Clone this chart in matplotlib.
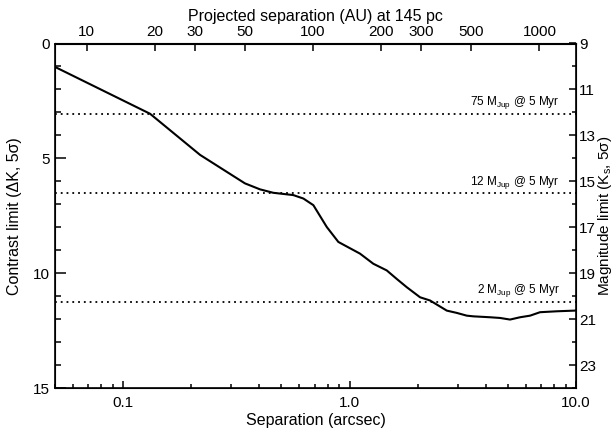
import matplotlib
matplotlib.use("Agg")
import matplotlib.pyplot as plt
from matplotlib.ticker import FixedLocator, FixedFormatter, NullFormatter
import numpy as np

plt.rcParams['font.family'] = ['Liberation Sans', 'DejaVu Sans']
plt.rcParams['mathtext.fontset'] = 'custom'
plt.rcParams['mathtext.rm'] = 'Liberation Sans'
plt.rcParams['mathtext.it'] = 'Liberation Sans:italic'

# Contrast curve (separation in arcsec, delta K)
sep = [0.05, 0.1315, 0.2186, 0.345, 0.402, 0.460, 0.564, 0.625, 0.692, 0.793, 0.892,
       0.923, 1.112, 1.273, 1.459, 1.615, 1.788, 2.048, 2.267, 2.687, 2.974, 3.293,
       3.521, 4.173, 4.618, 5.113, 5.661, 6.268, 6.937, 8.222, 9.90, 10.0]
dk = [1.02, 3.06, 4.85, 6.09, 6.35, 6.50, 6.60, 6.75, 7.04, 7.99, 8.64,
      8.72, 9.15, 9.59, 9.88, 10.25, 10.61, 11.05, 11.19, 11.63, 11.73, 11.85,
      11.88, 11.92, 11.95, 12.02, 11.92, 11.85, 11.70, 11.66, 11.63, 11.62]

mass_levels = [3.05, 6.53, 11.24]
mass_labels = [r"75 M$_{\rm Jup}$ @ 5 Myr", r"12 M$_{\rm Jup}$ @ 5 Myr", r"2 M$_{\rm Jup}$ @ 5 Myr"]

bottom_ticks = [0.1, 1.0, 10.0]
bottom_labels = ["0.1", "1.0", "10.0"]
top_ticks = [10, 20, 30, 50, 100, 200, 300, 500, 1000]
distance_pc = 145

fig = plt.figure(figsize=(6.14, 4.29), dpi=100)
ax = fig.add_axes([55/614, 1-388/429, 521/614, 344.5/429])

ax.plot(sep, dk, color='black', lw=1.5)
for lvl, lab in zip(mass_levels, mass_labels):
    ax.axhline(lvl, color='black', lw=1.3, ls=(0, (1, 2.2)))
    ax.text(0.969, lvl - 0.12, lab, transform=ax.get_yaxis_transform(),
            ha='right', va='bottom', fontsize=8.5)

ax.set_xscale('log')
ax.set_xlim(0.05, 10.0)
ax.set_ylim(15, 0)
ax.xaxis.set_major_locator(FixedLocator(bottom_ticks))
ax.xaxis.set_major_formatter(FixedFormatter(bottom_labels))
minors = [m * d for d in (0.01, 0.1, 1.0) for m in range(2, 10) if 0.05 <= m * d <= 10]
ax.xaxis.set_minor_locator(FixedLocator(minors))
ax.xaxis.set_minor_formatter(NullFormatter())
ax.set_yticks([0, 5, 10, 15])
ax.set_yticks(np.arange(0, 16, 1), minor=True)
ax.tick_params(axis='y', which='major', direction='in', length=7.9, width=1.1, labelsize=11)
ax.tick_params(axis='y', which='minor', direction='in', length=4.3, width=1.1)
ax.tick_params(axis='x', which='major', direction='in', length=5, width=1.1, labelsize=11, pad=6)
ax.tick_params(axis='x', which='minor', direction='in', length=2.9, width=1.1)
ax.tick_params(axis='x', which='both', top=False)
ax.set_xlabel("Separation (arcsec)", fontsize=11.5, labelpad=2)
ax.set_ylabel("Contrast limit (ΔK, 5σ)", fontsize=11.5, labelpad=8)
for s in ax.spines.values():
    s.set_linewidth(1.2)

ax2 = ax.twinx()
ax2.set_ylim(24, 9)
ax2.set_yticks([9, 11, 13, 15, 17, 19, 21, 23])
ax2.set_yticks(np.arange(9, 25, 1), minor=True)
ax2.tick_params(which='major', direction='in', length=5, width=1.1, labelsize=11, pad=2)
ax2.tick_params(which='minor', direction='in', length=3, width=1.1)
ax2.set_ylabel(r"Magnitude limit (K$_{\rm s}$, 5σ)", fontsize=11, rotation=90, labelpad=0)

secax = ax.secondary_xaxis('top', functions=(lambda x: x * distance_pc, lambda x: x / distance_pc))
secax.xaxis.set_major_locator(FixedLocator(top_ticks))
secax.xaxis.set_major_formatter(FixedFormatter([str(t) for t in top_ticks]))
secax.xaxis.set_minor_locator(FixedLocator([]))
secax.tick_params(which='major', direction='in', length=5.8, width=1.1, labelsize=11, pad=3)
secax.set_xlabel("Projected separation (AU) at 145 pc", fontsize=11.5, labelpad=3)

fig.savefig("out.png", dpi=100)
